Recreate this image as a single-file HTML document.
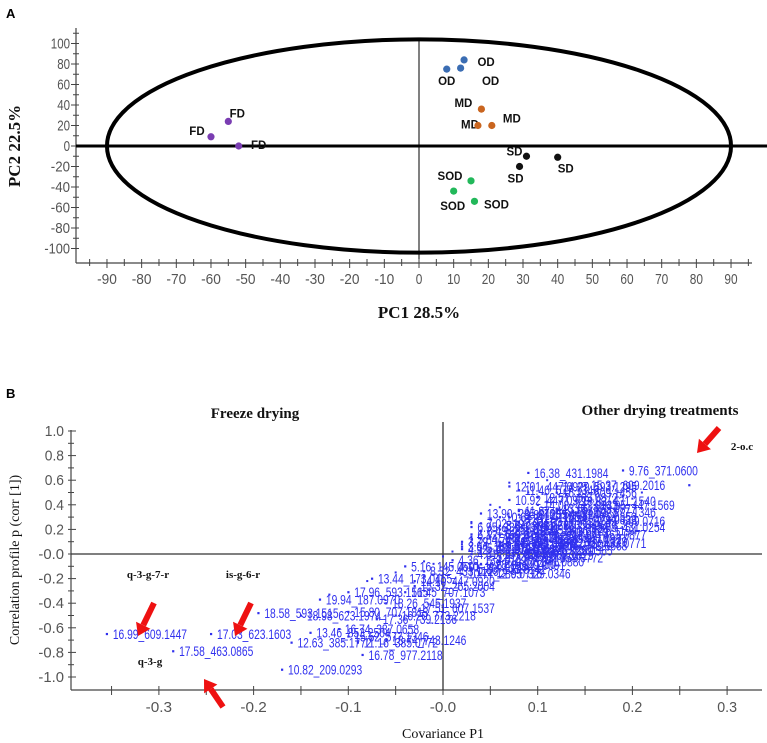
<!DOCTYPE html>
<html><head><meta charset="utf-8"><style>
html,body{margin:0;padding:0;background:#fff;}
svg{display:block;}
.tk{font-family:"Liberation Sans Narrow","Liberation Sans",sans-serif;fill:#555;font-size:15px;}
.pl{font-family:"Liberation Sans",sans-serif;font-weight:bold;font-size:11.5px;fill:#111;}
.bl{font-family:"Liberation Sans Narrow","Liberation Sans",sans-serif;fill:#3030ee;font-size:14px;}
.ser{font-family:"Liberation Serif",serif;fill:#111;}
</style></head><body>
<svg id="chart" width="767" height="743" viewBox="0 0 767 743" xmlns="http://www.w3.org/2000/svg">
<text x="6" y="18" font-family="Liberation Sans" font-weight="bold" font-size="13">A</text>
<text x="6" y="398" font-family="Liberation Sans" font-weight="bold" font-size="13">B</text>
<g id="pa"></g>
<g id="pb"></g>
</svg>
<script>
// ---------- Panel A data ----------
const aGroups = ["OD","MD","FD","SD","SOD"];
const aColors = ["#3b6db3","#c9651f","#7a3db2","#111111","#22b85a"];
const aX = [[13,12,8],[18,21,17],[-55,-60,-52],[31,40,29],[15,10,16]];
const aY = [[84,76,75],[36,20,20],[24,9,0],[-10,-11,-20],[-34,-44,-54]];
const aLabelDx = [[22,30,0],[-18,20,-8],[9,-14,20],[-12,8,-4],[-21,-1,22]];
const aLabelDy = [[2,13,12],[-6,-7,-1],[-8,-6,-1],[-5,11,12],[-5,15,3]];
const aXTicks = [-90,-80,-70,-60,-50,-40,-30,-20,-10,0,10,20,30,40,50,60,70,80,90];
const aYTicks = [-100,-80,-60,-40,-20,0,20,40,60,80,100];

// ---------- Panel B data ----------
const bX = [0.07,0.08,0.12,0.15,0.07,0.10,0.14,0.16,0.04,0.08,0.12,0.15,0.03,0.06,0.09,0.12,0.15,0.03,0.06,0.09,0.11,0.02,0.05,0.08,0.01,0.04,0.07,-0.04,-0.02,0.02,0.05,-0.075,-0.03,-0.03,-0.10,-0.04,-0.13,-0.06,-0.03,-0.195,-0.15,-0.10,-0.05,-0.07,-0.11,-0.14,-0.10,-0.09,-0.06,-0.16,-0.085,-0.17,-0.355,-0.245,-0.285,0.09,0.19,0.26,
 0.03,0.05,0.07,0.09,0.11,0.13,0.04,0.06,0.08,0.10,0.12,0.02,0.04,0.06,0.08,0.10,0.03,0.05,0.07,0.09,0.06,0.08,0.10,0.12,0.14,0.01,0.03,0.05,0.02,0.04,0.06,0.09,0.11,0.13,0.10,0.12];
const bY = [0.55,0.52,0.55,0.56,0.44,0.46,0.43,0.40,0.33,0.32,0.30,0.27,0.22,0.20,0.18,0.19,0.22,0.12,0.10,0.08,0.07,0.04,0.02,-0.01,-0.05,-0.08,-0.06,-0.10,-0.14,-0.16,-0.16,-0.20,-0.22,-0.26,-0.31,-0.31,-0.37,-0.40,-0.44,-0.48,-0.50,-0.47,-0.50,-0.53,-0.61,-0.64,-0.67,-0.72,-0.70,-0.72,-0.82,-0.94,-0.65,-0.65,-0.79,0.66,0.68,0.56,
 0.16,0.14,0.15,0.13,0.12,0.16,0.25,0.23,0.26,0.24,0.28,0.06,0.05,0.07,0.04,0.03,0.00,-0.02,0.01,-0.03,0.30,0.35,0.33,0.37,0.34,-0.10,-0.12,-0.09,0.10,0.19,0.09,0.21,0.10,0.09,0.40,0.50];
const bLabels = ["12.01_447.0929","11.46_577.1346","14.27_593.1295","15.37_609.2016","10.92_447.0929","12.57_463.0872","13.83_431.1540","14.95_447.1569","13.90_285.0400","9.88_255.1082","11.74_301.0353","12.49_609.0716","6.95_339.1078","8.25_191.0558","10.47_353.0873","11.06_515.1194","13.08_431.0254","5.84_133.0142","7.51_215.0327","9.32_179.0350","10.16_343.0668","4.92_191.0197","6.61_329.0867","8.80_367.1029","4.36_133.0142","7.28_161.0450","9.04_341.0880","5.16_145.0501","8.32_433.1129","10.77_289.0716","12.65_329.0346","13.44_173.0455","14.10_447.0920","15.32_265.2004","17.96_593.1515","16.45_707.1073","19.94_187.0970","18.26_545.1937","17.51_607.1537","18.58_593.1515","18.98_623.1974","15.80_707.1813","16.20_773.2218","17.36_739.2136","16.74_387.0658","13.46_853.2504","15.52_577.1346","11.16_385.0772","18.74_743.1246","12.63_385.1772","16.78_977.2118","10.82_209.0293","16.99_609.1447","17.03_623.1603","17.58_463.0865","16.38_431.1984","9.76_371.0600","",
 "6.12_169.0142","7.88_153.0193","9.47_315.0716","10.30_289.0716","11.58_447.0927","12.84_463.0877","7.02_197.0455","8.64_305.0661","9.91_337.0768","11.22_353.0873","13.41_479.0833","3.94_133.0142","5.48_191.0561","6.77_169.0137","8.03_183.0290","9.55_325.0565","4.61_137.0244","5.97_161.0244","7.33_299.0772","8.92_359.0772","10.64_417.1186","11.87_449.1078","12.26_431.0984","13.65_463.0877","14.52_577.1346","4.10_117.0193","5.33_133.0142","6.48_149.0091","3.79_173.0455","8.49_291.0139","6.90_305.0661","10.11_337.0929","11.42_367.1029","12.73_433.0771","14.08_447.0933","15.21_609.1456"];
// unlabeled dots of the dense cloud
const cX = [0.00,0.01,0.02,0.03,0.03,0.04,0.05,0.05,0.06,0.06,0.07,0.07,0.08,0.08,0.09,0.09,0.10,0.10,0.11,0.11,0.12,0.12,0.13,0.13,0.14,0.14,0.15,0.16,0.17,0.18,0.18,0.19,0.20,0.21,0.04,0.06,0.08,0.10,0.12,0.14,0.16,0.05,0.07,0.09,0.11,0.13,-0.01,-0.02,-0.05,-0.08,-0.12,-0.02,0.01,0.03,0.07,0.09,0.11,0.13,0.15,0.17];
const cY = [-0.02,0.02,0.08,0.14,0.25,0.18,0.05,0.28,0.15,0.38,0.10,0.24,0.05,0.36,0.20,0.50,0.12,0.30,0.25,0.42,0.14,0.36,0.22,0.48,0.16,0.33,0.44,0.52,0.40,0.55,0.30,0.47,0.45,0.50,0.00,-0.03,0.14,0.02,0.10,0.06,0.30,0.40,0.58,0.58,0.60,0.58,-0.08,-0.06,-0.15,-0.22,-0.33,-0.18,-0.10,0.26,0.30,0.26,0.12,0.28,0.14,0.20];
const bXTicks = [-0.3,-0.2,-0.1,0.0,0.1,0.2,0.3];
const bXTickLabels = ["-0.3","-0.2","-0.1","-0.0","0.1","0.2","0.3"];
const bYTicks = [1.0,0.8,0.6,0.4,0.2,0.0,-0.2,-0.4,-0.6,-0.8,-1.0];
const bYTickLabels = ["1.0","0.8","0.6","0.4","0.2","-0.0","-0.2","-0.4","-0.6","-0.8","-1.0"];

const NS="http://www.w3.org/2000/svg";
function mk(parent,tag,attrs,txt){const e=document.createElementNS(NS,tag);for(const k in attrs)e.setAttribute(k,attrs[k]);if(txt!==undefined)e.textContent=txt;parent.appendChild(e);return e;}

// ---------- Panel A ----------
const pa=document.getElementById('pa');
const ax=v=>419+v*3.467, ay=v=>146-v*1.025;
let e;
e=mk(pa,'line',{x1:76,y1:28,x2:76,y2:263,stroke:'#444','stroke-width':1.2});


e=mk(pa,'line',{x1:76,y1:263,x2:752,y2:263,stroke:'#444','stroke-width':1.2});


for(let v=-100;v<=110;v+=10){mk(pa,'line',{x1:v%20===0?71:73,y1:ay(v),x2:79,y2:ay(v),stroke:'#444','stroke-width':1});}
for(let v=-95;v<=95;v+=5){mk(pa,'line',{x1:ax(v),y1:259,x2:ax(v),y2:v%10===0?268:266,stroke:'#444','stroke-width':1});}
aYTicks.forEach(v=>{const s=String(v);e=mk(pa,'text',{x:70,y:ay(v)+5,'text-anchor':'end',class:'tk',textLength:s.length*6.4,lengthAdjust:'spacingAndGlyphs'},s);

});
aXTicks.forEach(v=>{const s=String(v);e=mk(pa,'text',{x:ax(v),y:284,'text-anchor':'middle',class:'tk',textLength:s.length*6.6,lengthAdjust:'spacingAndGlyphs'},s);

});
e=mk(pa,'ellipse',{cx:ax(0),cy:ay(0),rx:ax(90)-ax(0),ry:ay(0)-ay(104),fill:'none',stroke:'#000','stroke-width':4});


e=mk(pa,'line',{x1:76,y1:ay(0),x2:767,y2:ay(0),stroke:'#000','stroke-width':3});


e=mk(pa,'line',{x1:ax(0),y1:38,x2:ax(0),y2:259,stroke:'#000','stroke-width':1});


aGroups.forEach((g,i)=>{aX[i].forEach((xv,j)=>{
 const dx=aLabelDx[i][j], dy=aLabelDy[i][j];
 e=mk(pa,'text',{x:ax(xv)+dx,y:ay(aY[i][j])+dy+4,class:'pl','text-anchor':'middle'},g);
 
 
 e=mk(pa,'circle',{cx:ax(xv),cy:ay(aY[i][j]),r:3.6,fill:aColors[i]});
 
 
});});
e=mk(pa,'text',{x:419,y:318,'text-anchor':'middle',class:'ser','font-size':17,'font-weight':'bold'},'PC1 28.5%');


e=mk(pa,'text',{x:0,y:0,transform:'translate(20,146) rotate(-90)','text-anchor':'middle',class:'ser','font-size':17,'font-weight':'bold'},'PC2 22.5%');



// ---------- Panel B ----------
const pb=document.getElementById('pb');
const bx=v=>443+v*947, by=v=>554-v*123;
e=mk(pb,'line',{x1:71,y1:430,x2:71,y2:690,stroke:'#444','stroke-width':1.2});


e=mk(pb,'line',{x1:71,y1:690,x2:762,y2:690,stroke:'#444','stroke-width':1.2});


for(let v=-1.0;v<=1.001;v+=0.1){mk(pb,'line',{x1:68,y1:by(v),x2:Math.abs(Math.round(v*10))%2===0?76:74,y2:by(v),stroke:'#444','stroke-width':1});}
for(let v=-0.35;v<=0.301;v+=0.05){mk(pb,'line',{x1:bx(v),y1:686,x2:bx(v),y2:695,stroke:'#444','stroke-width':1});}
bYTicks.forEach((v,i)=>{const s=bYTickLabels[i];e=mk(pb,'text',{x:64,y:by(v)+5,'text-anchor':'end',class:'tk',textLength:s.length*6.4,lengthAdjust:'spacingAndGlyphs'},s);

});
bXTicks.forEach((v,i)=>{const s=bXTickLabels[i];e=mk(pb,'text',{x:bx(v),y:712,'text-anchor':'middle',class:'tk',textLength:s.length*6.6,lengthAdjust:'spacingAndGlyphs'},s);

});
e=mk(pb,'line',{x1:71,y1:by(0),x2:762,y2:by(0),stroke:'#333','stroke-width':1.3});


e=mk(pb,'line',{x1:bx(0),y1:422,x2:bx(0),y2:690,stroke:'#333','stroke-width':1.3});


cX.forEach((xv,i)=>{e=mk(pb,'rect',{x:bx(xv)-1,y:by(cY[i])-1,width:2,height:2,fill:'#3030ee'});

});
bX.forEach((xv,i)=>{
 e=mk(pb,'rect',{x:bx(xv)-1,y:by(bY[i])-1,width:2.2,height:2.2,fill:'#3030ee'});
 
 
 const s=bLabels[i];
 if(s){e=mk(pb,'text',{x:bx(xv)+6,y:by(bY[i])+5,class:'bl',textLength:s.length*5.3,lengthAdjust:'spacingAndGlyphs'},s);
 
 }
});
function arrow(x1,y1,x2,y2,name){
 const g=mk(pb,'g',{});
 
 
 const dx=x2-x1,dy=y2-y1,L=Math.hypot(dx,dy),ux=dx/L,uy=dy/L,h=12,w=8;
 const bxp=x2-ux*h,byp=y2-uy*h;
 mk(g,'line',{x1:x1,y1:y1,x2:bxp,y2:byp,stroke:'#ee1111','stroke-width':6});
 mk(g,'polygon',{points:`${x2},${y2} ${bxp-uy*w},${byp+ux*w} ${bxp+uy*w},${byp-ux*w}`,fill:'#ee1111'});
}
arrow(154,603,138,636,'arrow-q-3-g-7-r');
arrow(251,603,235,636,'arrow-is-g-6-r');
arrow(223,707,204,679,'arrow-q-3-g');
arrow(719,428,697,453,'arrow-2-o-c');
[['q-3-g-7-r',148,578,'annot-q-3-g-7-r'],['is-g-6-r',243,578,'annot-is-g-6-r'],['q-3-g',150,665,'annot-q-3-g'],['2-o.c',742,450,'annot-2-o-c']].forEach(a=>{
 e=mk(pb,'text',{x:a[1],y:a[2],'text-anchor':'middle',class:'ser','font-size':11,'font-weight':'bold'},a[0]);
 
 });
e=mk(pb,'text',{x:255,y:418,'text-anchor':'middle',class:'ser','font-size':15,'font-weight':'bold'},'Freeze drying');


e=mk(pb,'text',{x:660,y:415,'text-anchor':'middle',class:'ser','font-size':15,'font-weight':'bold'},'Other drying treatments');


e=mk(pb,'text',{x:443,y:738,'text-anchor':'middle',class:'ser','font-size':14},'Covariance P1');


e=mk(pb,'text',{x:0,y:0,transform:'translate(19,560) rotate(-90)','text-anchor':'middle',class:'ser','font-size':14},'Correlation profile p (corr [1])');


</script>
</body></html>
